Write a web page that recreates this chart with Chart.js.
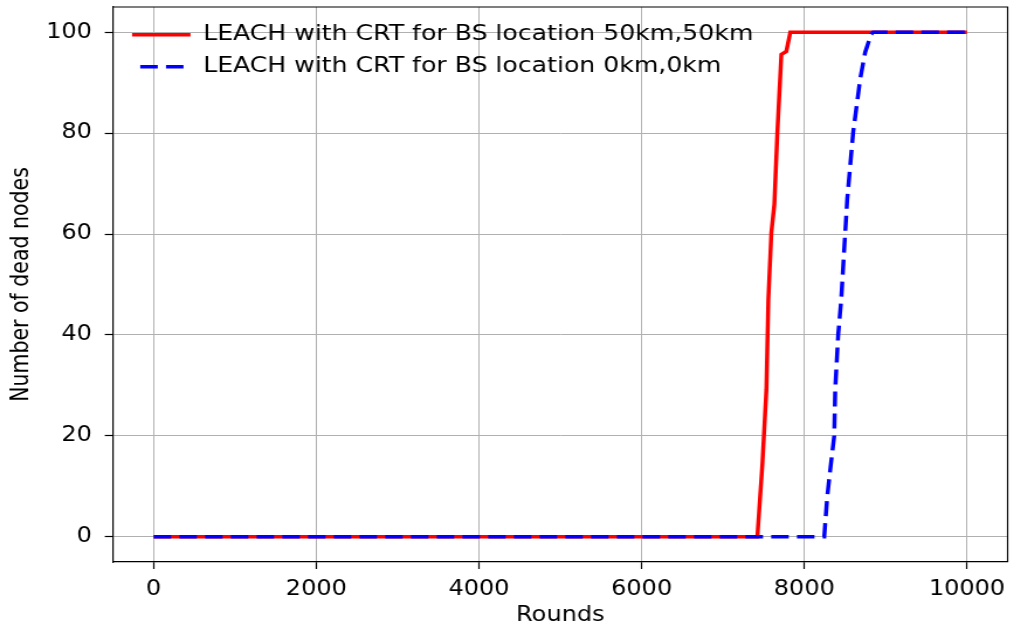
<!DOCTYPE html>
<html>
<head>
<meta charset="utf-8">
<script src="https://cdn.jsdelivr.net/npm/chart.js@4/dist/chart.umd.min.js"></script>
<style>
  body { margin: 0; background: #fff; overflow: hidden; }
  #wrap { width: 867px; height: 625px; transform: scaleX(1.1696); transform-origin: 0 0; }
</style>
</head>
<body>
<div id="wrap"><canvas id="chart1" width="867" height="625"></canvas></div>
<script>
// values
var x_ticks = [0, 2000, 4000, 6000, 8000, 10000]
var y_ticks = [0, 20, 40, 60, 80, 100]

var red_rounds = [0, 7423, 7485, 7534, 7558, 7595, 7632, 7669, 7718, 7779, 7828, 10000]
var red_dead   = [0, 0, 14.5, 29.2, 47, 60.3, 65.9, 80.2, 95.6, 96.2, 100, 100]

var blue_rounds = [0, 8245, 8282, 8319, 8368, 8380, 8417, 8454, 8503, 8528, 8601, 8687, 8748, 8822, 8847, 10000]
var blue_dead   = [0, 0, 7.9, 13.3, 20, 29.2, 40.1, 47, 60.3, 66.9, 80.2, 90.7, 96, 99.6, 100, 100]

function to_points(xs, ys){
    var pts = []
    xs.forEach((x, i) => {
        pts.push({x: x, y: ys[i]})
    })
    return pts
}

var tick_font = {family: 'DejaVu Sans', size: 20.5}
var title_font = {family: 'DejaVu Sans', size: 20.5, lineHeight: 0.9}

// top and right frame lines, like the matplotlib box
var frame_plugin = {
    id: 'frame',
    afterDatasetsDraw(chart){
        var a = chart.chartArea
        var ctx = chart.ctx
        ctx.save()
        ctx.strokeStyle = '#000'
        ctx.lineWidth = 1.2
        ctx.beginPath()
        ctx.moveTo(a.left, a.top)
        ctx.lineTo(a.right, a.top)
        ctx.lineTo(a.right, a.bottom)
        ctx.stroke()
        ctx.restore()
    }
}

// push the legend a little into the plot
var legend_nudge = {
    id: 'legendNudge',
    beforeDraw(chart){
        chart.legend.left = chart.chartArea.left + 5.8
        chart.legend.top = chart.chartArea.top + 6.5
    }
}

// legend lines keep the dataset dash (point style would drop it)
function legend_labels(chart){
    var items = Chart.defaults.plugins.legend.labels.generateLabels(chart)
    items.forEach(item => {
        var ds = chart.data.datasets[item.datasetIndex]
        item.lineDash = ds.borderDash || []
        item.lineDashOffset = 15
        item.lineWidth = ds.borderWidth
        item.strokeStyle = ds.borderColor
    })
    return items
}

var ctx = document.getElementById('chart1')
var myChart = new Chart(ctx, {
    type: 'line',
    data: {
        datasets: [{
            label: 'LEACH with CRT for BS location 50km,50km',
            data: to_points(red_rounds, red_dead),
            borderColor: '#ff0000',
            backgroundColor: '#ff0000',
            borderWidth: 3.5,
            pointRadius: 0,
            tension: 0,
            order: 1
        }, {
            label: 'LEACH with CRT for BS location 0km,0km',
            data: to_points(blue_rounds, blue_dead),
            borderColor: '#0000ff',
            backgroundColor: '#0000ff',
            borderWidth: 3.5,
            borderDash: [15, 7],
            pointRadius: 0,
            tension: 0,
            order: 0
        }]
    },
    options: {
        responsive: false,
        animation: false,
        layout: {padding: {left: 0, top: 7, right: 5.5, bottom: 0}},
        scales: {
            x: {
                type: 'linear',
                min: -500,
                max: 10500,
                afterBuildTicks: s => { s.ticks = x_ticks.map(v => ({value: v})) },
                afterFit: s => {
                    s.height = 63
                    s.paddingLeft = 0
                    s.paddingRight = 0
                },
                ticks: {
                    color: '#000',
                    font: tick_font,
                    padding: 8,
                    maxRotation: 0,
                    autoSkip: false,
                    callback: v => String(v)
                },
                grid: {color: '#b0b0b0', lineWidth: 1, tickColor: '#000', tickLength: 7, tickWidth: 1.2},
                border: {color: '#000', width: 1.2},
                title: {display: true, text: 'Rounds', color: '#000', font: title_font, padding: {top: 0, bottom: 0}}
            },
            y: {
                min: -5,
                max: 105,
                afterBuildTicks: s => { s.ticks = y_ticks.map(v => ({value: v})) },
                afterFit: s => {
                    s.width = 96.6
                    s.paddingTop = 0
                    s.paddingBottom = 0
                },
                ticks: {
                    color: '#000',
                    font: tick_font,
                    padding: 11,
                    callback: v => String(v)
                },
                grid: {color: '#b0b0b0', lineWidth: 1, tickColor: '#000', tickLength: 7, tickWidth: 1.2},
                border: {color: '#000', width: 1.2},
                title: {display: true, text: 'Number of dead nodes', color: '#000', font: tick_font, padding: {top: 6.5, bottom: 0}}
            }
        },
        plugins: {
            legend: {
                position: 'chartArea',
                align: 'start',
                labels: {
                    color: '#000',
                    font: {family: 'DejaVu Sans', size: 21.5},
                    usePointStyle: true,
                    pointStyle: 'line',
                    pointStyleWidth: 50,
                    padding: 10.5,
                    sort: (a, b) => a.datasetIndex - b.datasetIndex,
                    generateLabels: legend_labels
                }
            },
            tooltip: {enabled: false}
        }
    },
    plugins: [frame_plugin, legend_nudge]
})
</script>
</body>
</html>
